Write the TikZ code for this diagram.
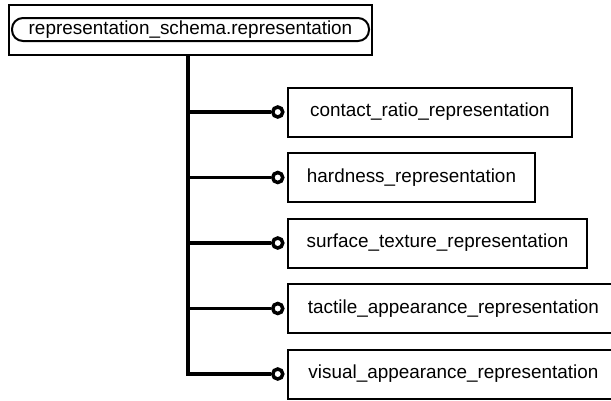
\documentclass[tikz,border=0pt]{standalone}
\usepackage{fontspec}
\setmainfont{Liberation Sans}
\begin{document}
\begin{tikzpicture}[x=1pt,y=-1pt,
        entity/.style={draw,line width=2pt,anchor=west,inner xsep=0pt,minimum height=49pt,
            font=\fontsize{18.9}{22}\selectfont},
        link/.style={line width=3.4pt},
        ring/.style={circle,draw,line width=3.5pt,fill=white,inner sep=0pt,minimum size=10pt,anchor=east,xshift=-2.5pt}]
    \clip (0,0) rectangle (611,400);
    % schema box
    \node[draw,line width=2pt,minimum width=363pt,minimum height=50pt] (frame) at (190.5,30) {};
    \node[draw,line width=2pt,rounded corners=11pt,minimum width=357pt,minimum height=23pt,inner sep=0pt,
        font=\fontsize{18.9}{22}\selectfont] (schema) at (190.5,29.5) {representation\_schema.representation};
    % subtypes
    \node[entity,minimum width=284pt] (contact) at (287,112) {contact\_ratio\_representation};
    \node[entity,minimum width=247pt] (hardness) at (287,177.5) {hardness\_representation};
    \node[entity,minimum width=299pt] (surface) at (287,243) {surface\_texture\_representation};
    \node[entity,minimum width=331pt] (tactile) at (287,308.5) {tactile\_appearance\_representation};
    \node[entity,minimum width=331pt] (visual) at (287,374) {visual\_appearance\_representation};
    \coordinate (corner) at (188,374);
    \node[ring] (r1) at (contact.west) {};
    \node[ring] (r2) at (hardness.west) {};
    \node[ring] (r3) at (surface.west) {};
    \node[ring] (r4) at (tactile.west) {};
    \node[ring] (r5) at (visual.west) {};
    \draw[link] (frame.south -| corner) -- (corner) -- (r5.west);
    \draw[link] (corner |- r1) -- (r1.west);
    \draw[link] (corner |- r2) -- (r2.west);
    \draw[link] (corner |- r3) -- (r3.west);
    \draw[link] (corner |- r4) -- (r4.west);
\end{tikzpicture}
\end{document}
